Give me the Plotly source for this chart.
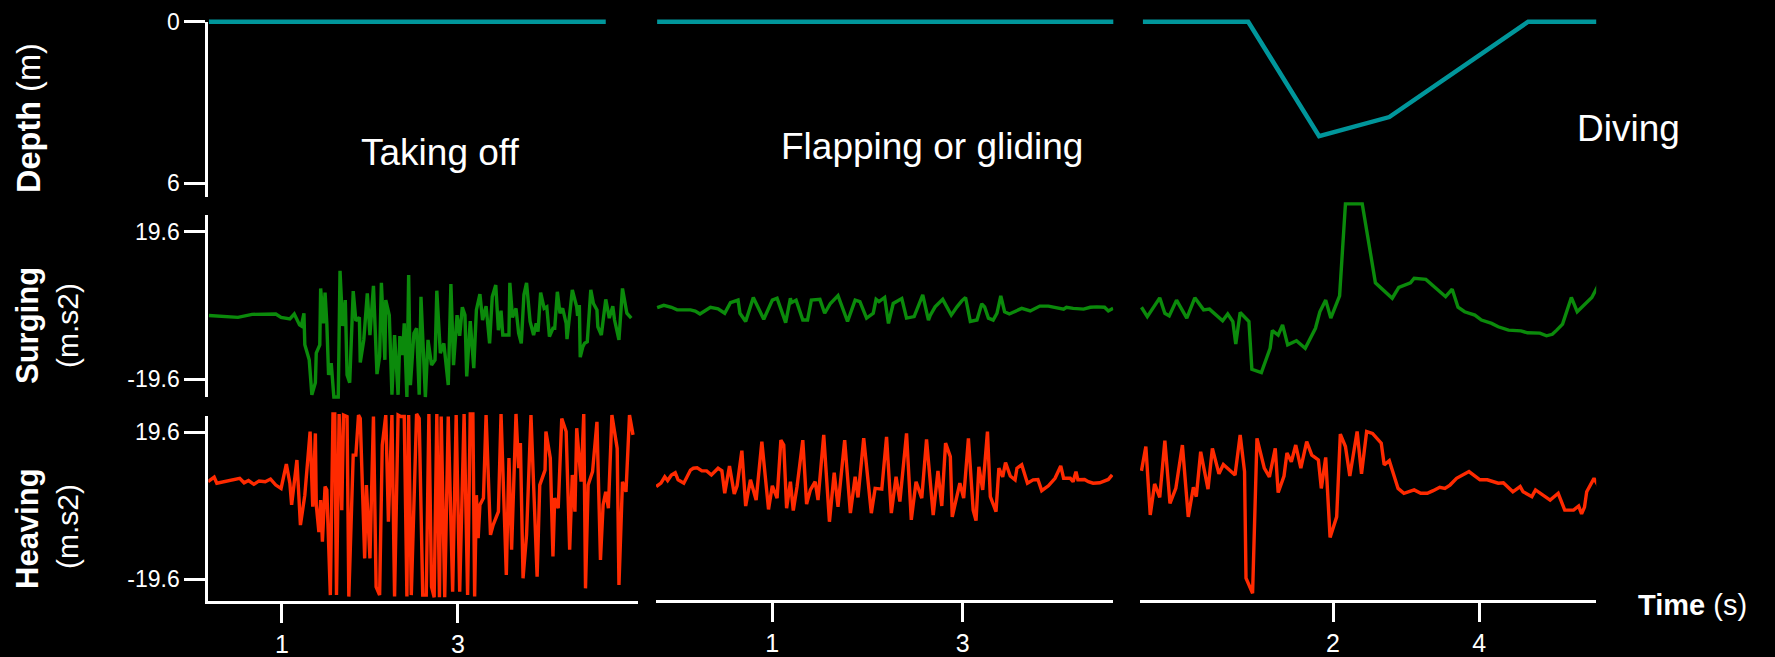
import plotly.graph_objects as go

W, H = 1775, 657

# ---------------- data (time in s, depth in m, acceleration in m.s2) ----------------
depth_takeoff_t = [0.17, 4.68]
depth_takeoff = [0, 0]
depth_flap_t = [-0.21, 4.60]
depth_flap = [0, 0]
depth_dive_t = [-0.60, 0.84, 1.81, 2.77, 4.67, 5.63]
depth_dive = [0, 0, 4.25, 3.54, 0, 0]

surge_takeoff_t = [0.17, 0.50, 0.66, 0.93, 0.99, 1.09, 1.14, 1.20, 1.22, 1.25, 1.26, 1.31, 1.34, 1.38, 1.39,
                   1.43, 1.44, 1.47, 1.49, 1.51, 1.53, 1.56, 1.59, 1.64, 1.66, 1.69, 1.72, 1.74, 1.77, 1.81,
                   1.84, 1.88, 1.89, 1.93, 1.97, 2.00, 2.04, 2.08, 2.11, 2.13, 2.17, 2.18, 2.22, 2.25, 2.28,
                   2.32, 2.34, 2.37, 2.39, 2.42, 2.44, 2.46, 2.50, 2.53, 2.56, 2.58, 2.63, 2.66, 2.70, 2.74,
                   2.76, 2.80, 2.84, 2.89, 2.92, 2.95, 2.99, 3.02, 3.05, 3.08, 3.10, 3.14, 3.18, 3.21, 3.25,
                   3.28, 3.32, 3.36, 3.39, 3.43, 3.46, 3.49, 3.51, 3.58, 3.59, 3.62, 3.66, 3.69, 3.72, 3.75,
                   3.78, 3.82, 3.86, 3.89, 3.91, 3.94, 3.98, 4.01, 4.04, 4.08, 4.10, 4.13, 4.16, 4.19, 4.23,
                   4.24, 4.30, 4.35, 4.36, 4.38, 4.39, 4.42, 4.44, 4.47, 4.51, 4.54, 4.58, 4.59, 4.63, 4.68,
                   4.72, 4.76, 4.78, 4.83, 4.87, 4.92, 4.97]
surge_takeoff = [-2.7, -3.2, -2.4, -2.3, -3.2, -3.6, -2.3, -5.2, -5.5, -2.1, -10.5, -14.5, -23.8, -20.6, -12.7,
                 -10.5, 4.5, -4.8, 3.4, -4.8, -18.5, -15.4, -24.4, -24.4, 9.2, -5.5, 1.4, -18.5, -20.6, 3.8,
                 -4.1, -3.2, -15.2, -9.2, 3.2, -7.9, 5.2, -18.3, -13.6, 6.0, -14.5, 1.4, -2.6, -23.8, -7.9,
                 -23.8, -8.2, -13.2, -4.8, -24.4, 8.1, -21.2, -7.4, -6.1, -23.8, 2.3, -24.4, -9.2, -15.9, -14.5,
                 3.9, -12.7, -10.1, -21.2, 5.7, -15.9, -2.6, -8.1, -0.5, -2.6, -18.9, -4.2, -16.7, -1.2, 3.0,
                 -3.9, -0.2, -10.1, 2.3, 5.4, -6.6, -1.4, -7.9, -7.9, 6.0, -3.2, -0.8, -7.4, -10.1, 2.8,
                 6.0, -4.3, -7.9, -4.8, -7.0, 3.4, -0.8, -0.4, -8.3, -6.1, -6.1, 3.6, -2.1, -0.8, -4.8,
                 -9.0, 4.1, -0.4, -2.8, 0.1, -13.8, -11.0, -10.1, -9.7, 4.1, 0.5, -1.2, -5.7, -7.9, 1.6,
                 -3.4, -0.2, -3.9, -9.2, 4.5, -2.1, -3.4]

heave_takeoff_t = [0.16, 0.23, 0.26, 0.52, 0.57, 0.62, 0.68, 0.74, 0.81, 0.87, 0.93, 0.99, 1.05, 1.09, 1.11,
                   1.17, 1.21, 1.26, 1.32, 1.35, 1.38, 1.39, 1.42, 1.44, 1.46, 1.49, 1.51, 1.55, 1.58, 1.60,
                   1.62, 1.65, 1.68, 1.70, 1.74, 1.76, 1.81, 1.84, 1.87, 1.89, 1.94, 1.96, 2.00, 2.04, 2.07,
                   2.11, 2.14, 2.18, 2.21, 2.25, 2.28, 2.32, 2.35, 2.39, 2.42, 2.44, 2.47, 2.50, 2.53, 2.56,
                   2.60, 2.64, 2.67, 2.70, 2.73, 2.76, 2.79, 2.81, 2.85, 2.89, 2.94, 2.98, 3.02, 3.07, 3.11,
                   3.14, 3.17, 3.19, 3.21, 3.23, 3.25, 3.29, 3.32, 3.37, 3.40, 3.46, 3.49, 3.55, 3.58, 3.61,
                   3.66, 3.69, 3.71, 3.74, 3.78, 3.83, 3.90, 3.93, 3.99, 4.00, 4.05, 4.08, 4.10, 4.14, 4.18,
                   4.23, 4.27, 4.30, 4.33, 4.35, 4.38, 4.40, 4.43, 4.45, 4.48, 4.53, 4.58, 4.62, 4.65, 4.68,
                   4.71, 4.75, 4.81, 4.83, 4.87, 4.91, 4.95, 4.99]
heave_takeoff = [6.4, 7.6, 6.0, 7.3, 6.1, 6.7, 5.7, 6.6, 6.4, 7.1, 5.5, 4.6, 11.1, 6.0, 0.2,
                 12.2, -5.2, 2.8, 19.8, -0.3, 19.3, 0.2, -7.1, 1.5, -9.6, 5.1, 4.2, -23.9, 24.5, 24.5,
                 -23.9, 24.5, -1.2, 24.2, 23.8, -24.3, 13.5, 13.5, 24.2, 23.3, -14.1, 5.5, -14.1, 23.8, -21.7,
                 -23.9, 16.2, 24.2, -4.3, 24.2, -24.3, 24.2, 23.8, 23.8, -24.3, 24.2, -23.9, 2.0, 24.5, 23.3,
                 -23.9, -23.9, 24.5, -21.7, -24.5, 24.5, -24.5, 23.8, -24.5, 23.8, -23.0, 24.2, -23.0, 24.5, -23.9,
                 24.5, 24.5, -24.3, 2.8, -8.7, 0.2, 2.0, 24.2, -7.8, -5.2, -1.6, 24.5, -18.5, 12.7, -11.8,
                 24.5, 10.0, 16.7, -19.4, -7.8, 24.2, -19.0, 5.5, 9.5, 19.8, 12.7, -13.6, 2.0, -0.7, 23.3,
                 19.8, -11.8, 8.2, -1.6, 20.7, 11.3, 6.4, 24.5, -22.1, 5.5, 9.1, 22.4, -14.5, 0.2, 3.7,
                 -0.7, 24.2, 15.3, -21.2, 6.4, 3.7, 24.2, 18.9]

surge_flap_t = [-0.21, -0.14, -0.06, 0.00, 0.14, 0.19, 0.24, 0.35, 0.43, 0.50, 0.56, 0.64, 0.66, 0.72, 0.80,
                0.91, 1.00, 1.05, 1.14, 1.19, 1.20, 1.25, 1.32, 1.37, 1.41, 1.50, 1.55, 1.61, 1.69, 1.79,
                1.87, 1.92, 1.99, 2.06, 2.09, 2.12, 2.18, 2.22, 2.27, 2.36, 2.41, 2.49, 2.58, 2.64, 2.66,
                2.71, 2.79, 2.88, 2.94, 2.99, 3.03, 3.08, 3.15, 3.20, 3.23, 3.27, 3.32, 3.36, 3.40, 3.44,
                3.49, 3.55, 3.62, 3.71, 3.81, 3.90, 3.95, 4.06, 4.09, 4.16, 4.27, 4.34, 4.41, 4.49, 4.53,
                4.58]
surge_flap = [-0.6, 0.0, -0.5, -1.2, -1.2, -1.5, -2.3, -0.5, -0.9, -2.1, 0.7, 1.4, -2.1, -4.3, 2.1,
              -3.7, 1.4, 1.9, -4.6, 1.9, 0.7, 1.4, -3.9, -3.9, 1.4, 1.6, -2.1, 0.5, 2.6, -4.3,
              1.4, 1.0, -3.4, -2.1, 1.6, 1.0, 2.1, -4.8, 0.5, 1.8, -3.4, -3.0, 2.8, -3.9, -2.6,
              -0.4, 1.6, -2.6, -0.4, 1.2, 2.1, -4.3, -3.9, 0.4, -0.4, -3.4, -3.9, -2.1, 2.5, -1.7,
              -2.3, -1.7, -0.8, -1.5, -0.2, -0.2, -0.5, -1.0, -0.5, -0.8, -1.0, -0.5, -0.4, -0.5, -1.5,
              -0.8]

heave_flap_t = [-0.22, -0.17, -0.13, -0.10, -0.06, -0.02, 0.01, 0.07, 0.14, 0.17, 0.21, 0.26, 0.31, 0.36, 0.43,
                0.47, 0.50, 0.55, 0.60, 0.63, 0.68, 0.72, 0.77, 0.83, 0.89, 0.96, 1.00, 1.05, 1.09, 1.12,
                1.15, 1.19, 1.22, 1.26, 1.32, 1.36, 1.40, 1.45, 1.48, 1.54, 1.60, 1.65, 1.69, 1.76, 1.82,
                1.87, 1.90, 1.96, 2.04, 2.08, 2.15, 2.20, 2.25, 2.30, 2.34, 2.41, 2.46, 2.51, 2.57, 2.62,
                2.69, 2.74, 2.78, 2.82, 2.87, 2.89, 2.97, 3.01, 3.06, 3.11, 3.14, 3.17, 3.21, 3.26, 3.29,
                3.35, 3.38, 3.42, 3.45, 3.50, 3.55, 3.57, 3.62, 3.68, 3.74, 3.79, 3.83, 3.90, 3.97, 4.03,
                4.06, 4.13, 4.16, 4.19, 4.21, 4.28, 4.32, 4.37, 4.44, 4.49, 4.53, 4.57]
heave_flap = [5.1, 6.0, 7.7, 6.7, 8.2, 8.8, 6.9, 6.0, 9.5, 10.0, 10.1, 9.3, 9.3, 8.2, 10.0,
              9.3, 3.3, 10.6, 3.1, 5.3, 14.7, -0.1, 6.9, 1.5, 17.1, -1.0, 5.3, 2.0, 17.5, 16.2,
              -0.7, 6.4, -1.3, 5.1, 17.5, 0.4, 4.2, 6.4, 1.5, 18.9, -4.3, 8.8, -0.3, 17.5, -2.0,
              7.7, 2.2, 18.0, -2.0, 4.6, 4.4, 18.4, -2.0, 7.7, 1.1, 19.3, -3.8, 6.4, 2.0, 17.7,
              -2.5, 9.3, -0.1, 16.7, 13.1, -3.0, 6.0, 2.0, 18.0, -1.2, -4.0, 10.4, 4.2, 19.8, 2.4,
              -1.6, 10.0, 7.7, 11.5, 7.9, 6.9, 10.0, 10.9, 6.0, 6.9, 7.0, 4.0, 5.3, 7.3, 10.6,
              7.3, 7.3, 6.4, 9.1, 6.9, 7.0, 6.4, 6.0, 6.1, 6.7, 7.0, 8.2]

surge_dive_t = [-0.62, -0.54, -0.37, -0.30, -0.24, -0.14, 0.00, 0.11, 0.23, 0.31, 0.49, 0.56, 0.63, 0.67, 0.73,
                0.85, 0.89, 1.02, 1.14, 1.17, 1.25, 1.31, 1.38, 1.50, 1.62, 1.76, 1.82, 1.90, 1.97, 2.09,
                2.17, 2.40, 2.58, 2.81, 2.90, 3.06, 3.11, 3.27, 3.54, 3.63, 3.71, 3.80, 3.94, 4.03, 4.17,
                4.26, 4.40, 4.57, 4.66, 4.83, 4.92, 5.00, 5.06, 5.14, 5.26, 5.34, 5.54, 5.63]
surge_dive = [-0.5, -3.0, 2.0, -2.1, -2.8, 1.4, -3.4, 2.0, -1.2, -1.0, -4.1, -2.3, -4.3, -10.3, -1.9,
              -4.3, -17.0, -17.9, -11.4, -6.7, -7.9, -5.2, -10.5, -9.4, -11.4, -6.1, -1.7, 1.4, -3.4, 2.5,
              27.0, 27.0, 6.0, 1.9, 4.8, 6.0, 7.2, 6.9, 2.3, 4.3, -0.5, -1.7, -2.6, -3.9, -4.8,
              -5.7, -6.6, -6.8, -7.3, -7.4, -8.1, -7.7, -6.6, -5.0, 2.1, -1.7, 2.1, 5.4]

heave_dive_t = [-0.62, -0.56, -0.50, -0.44, -0.37, -0.30, -0.23, -0.15, -0.06, 0.02, 0.09, 0.13, 0.19, 0.29, 0.35,
                0.44, 0.50, 0.58, 0.66, 0.73, 0.79, 0.81, 0.90, 0.96, 1.06, 1.13, 1.21, 1.25, 1.33, 1.37,
                1.43, 1.49, 1.56, 1.64, 1.71, 1.80, 1.84, 1.90, 1.96, 2.05, 2.10, 2.17, 2.23, 2.33, 2.39,
                2.46, 2.54, 2.66, 2.69, 2.70, 2.77, 2.89, 2.97, 3.11, 3.20, 3.29, 3.37, 3.46, 3.53, 3.60,
                3.69, 3.86, 4.01, 4.11, 4.26, 4.33, 4.46, 4.56, 4.60, 4.72, 4.77, 4.86, 4.97, 5.08, 5.17,
                5.29, 5.36, 5.40, 5.44, 5.47, 5.57, 5.65]
heave_dive = [9.3, 15.8, -2.5, 5.8, 2.2, 17.4, 0.6, 4.6, 16.2, -3.0, 4.9, 2.4, 14.4, 4.4, 15.3,
              8.5, 11.0, 9.5, 8.2, 18.9, 9.1, -19.4, -23.4, 18.0, 10.0, 7.7, 15.3, 3.5, 7.9, 14.1,
              11.7, 16.2, 10.0, 17.1, 13.5, 12.2, 4.6, 12.9, -8.5, -3.0, 19.1, 15.8, 7.9, 19.8, 8.5,
              19.8, 19.3, 16.7, 13.1, 10.9, 12.0, 4.6, 3.3, 4.2, 3.3, 3.3, 4.0, 4.9, 4.6, 5.5,
              7.3, 9.1, 6.9, 6.9, 6.0, 6.1, 3.7, 5.1, 3.7, 2.4, 4.2, 3.1, 1.5, 3.3, -1.2,
              -1.2, -0.1, -2.2, -0.4, 3.7, 7.3, 4.6]

depth_ticks = [0, 6]
accel_ticks = [-19.6, 19.6]
time_ticks = [[1, 3], [1, 3], [2, 4]]
state_names = ["Taking off", "Flapping or gliding", "Diving"]

TEAL = "#00969B"
GREEN = "#0B8A0B"
RED = "#FF2A00"
WHITE = "white"
FONT = "Liberation Sans, Arial, sans-serif"


def xdom(l, r):
    return [l / W, r / W]


def ydom(top, bot):
    return [1 - bot / H, 1 - top / H]


fig = go.Figure()

columns = [
    ("x", depth_takeoff_t, depth_takeoff, surge_takeoff_t, surge_takeoff, heave_takeoff_t, heave_takeoff),
    ("x2", depth_flap_t, depth_flap, surge_flap_t, surge_flap, heave_flap_t, heave_flap),
    ("x3", depth_dive_t, depth_dive, surge_dive_t, surge_dive, heave_dive_t, heave_dive),
]
for c, (xa, dt, dv, st, sv, ht, hv) in enumerate(columns):
    fig.add_trace(go.Scatter(x=dt, y=dv, mode="lines", line=dict(color=TEAL, width=4.5),
                             xaxis=xa, yaxis="y" if c == 0 else f"y{1 + c}", showlegend=False))
    fig.add_trace(go.Scatter(x=st, y=sv, mode="lines", line=dict(color=GREEN, width=3.4),
                             xaxis=xa, yaxis=f"y{4 + c}", showlegend=False))
    fig.add_trace(go.Scatter(x=ht, y=hv, mode="lines", line=dict(color=RED, width=3.4),
                             xaxis=xa, yaxis=f"y{7 + c}", showlegend=False))

# placeholders so the visible left axes get drawn
for ya in ["y10", "y11", "y12"]:
    fig.add_trace(go.Scatter(x=[None], y=[None], xaxis="x", yaxis=ya, showlegend=False, hoverinfo="skip"))

hidden = dict(visible=False, showgrid=False, zeroline=False, fixedrange=True, automargin=False)
axis_style = dict(showline=True, linecolor=WHITE, linewidth=3, ticks="outside", tickcolor=WHITE,
                  tickwidth=3, showgrid=False, zeroline=False, fixedrange=True, automargin=False)

# pixel extents of the three columns and their time ranges
x_cols = [((208.3, 637.6), [0.163, 5.042]),
          ((656.0, 1113.3), [-0.222, 4.582]),
          ((1140.0, 1596.2), [-0.640, 5.60])]
xpos = 1 - 601 / H
layout = {}
for c, ((l, r), rng) in enumerate(x_cols):
    key = "xaxis" if c == 0 else f"xaxis{c + 1}"
    d = dict(axis_style, domain=xdom(l, r), range=rng, tickvals=time_ticks[c], ticklen=19,
             tickfont=dict(size=25, color=WHITE, family=FONT))
    if c == 0:
        d["anchor"] = "y12"
    else:
        d["anchor"] = "free"
        d["position"] = xpos
    layout[key] = d

# hidden data axes (slightly taller than the drawn axes so nothing is cut)
for c in range(3):
    xa = "x" if c == 0 else f"x{c + 1}"
    layout["yaxis" if c == 0 else f"yaxis{1 + c}"] = dict(hidden, domain=ydom(8, 200), range=[6.62, -0.509], anchor=xa)
    layout[f"yaxis{4 + c}"] = dict(hidden, domain=ydom(198, 399), range=[-24.92, 28.57], anchor=xa)
    layout[f"yaxis{7 + c}"] = dict(hidden, domain=ydom(404, 601), range=[-25.48, 27.16], anchor=xa)

tick_font = dict(size=23, color=WHITE, family=FONT)
layout["yaxis10"] = dict(axis_style, domain=ydom(21.7, 197), range=[6.509, 0], anchor="x",
                         tickvals=depth_ticks, ticklen=21, tickfont=tick_font)
layout["yaxis11"] = dict(axis_style, domain=ydom(215, 397.3), range=[-24.47, 24.04], anchor="x",
                         tickvals=accel_ticks, ticktext=["-19.6", "19.6"], ticklen=21, tickfont=tick_font)
layout["yaxis12"] = dict(axis_style, domain=ydom(416, 601), range=[-25.48, 23.96], anchor="x",
                         tickvals=accel_ticks, ticktext=["-19.6", "19.6"], ticklen=21, tickfont=tick_font)


def ann(text, px, py, size, angle=0, xanchor="center"):
    return dict(text=text, x=px / W, y=1 - py / H, xref="paper", yref="paper", showarrow=False,
                textangle=angle, xanchor=xanchor, yanchor="middle",
                font=dict(size=size, color=WHITE, family=FONT))


annotations = [
    ann(state_names[0], 440, 152, 37),
    ann(state_names[1], 932, 146, 37),
    ann(state_names[2], 1628, 128, 37),
    ann("<b>Depth</b> (m)", 29, 118, 32.5, -90),
    ann("<b>Surging</b>", 27, 326, 31, -90),
    ann("(m.s2)", 67, 326, 30, -90),
    ann("<b>Heaving</b>", 27, 529, 31, -90),
    ann("(m.s2)", 67, 527, 30, -90),
    ann("<b>Time</b> (s)", 1636, 605, 29, 0, "left"),
]

fig.update_layout(width=W, height=H, autosize=False,
                  margin=dict(l=0, r=0, t=0, b=0, pad=0, autoexpand=False),
                  paper_bgcolor="black", plot_bgcolor="rgba(0,0,0,0)", showlegend=False,
                  annotations=annotations, **layout)

fig.write_html("out.html")
